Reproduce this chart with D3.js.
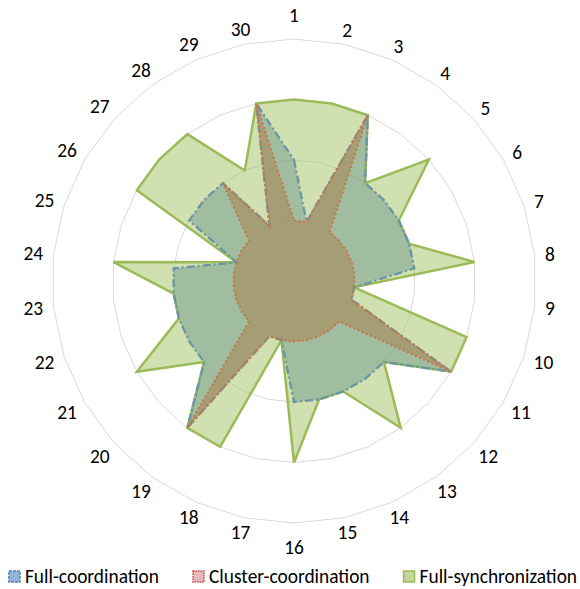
<!DOCTYPE html>
<html>
<head>
<meta charset="utf-8">
<script src="https://cdn.jsdelivr.net/npm/d3@7"></script>
<style>
  body { margin: 0; background: #fff; }
  text { font-family: Carlito, Lato, sans-serif; fill: #000; }
</style>
</head>
<body>
<svg id="chart" width="580" height="589"></svg>
<script>
// axis labels (one spoke per item, clockwise from the top)
var axisLabels = ["1","2","3","4","5","6","7","8","9","10","11","12","13","14","15",
                  "16","17","18","19","20","21","22","23","24","25","26","27","28","29","30"];

// values (grid rings at 1, 2, 3, 4)
var fullCoordination    = [2,1,3,2,2,2,2,2,1,1,3,2,2,2,2,2,1,1,3,2,2,2,2,2,1,2,2,2,1,3];
var clusterCoordination = [1,1,3,1,1,1,1,1,1,1,3,1,1,1,1,1,1,1,3,1,1,1,1,1,1,1,1,2,1,3];
var fullSynchronization = [3,3,3,2,3,2,2,3,1,3,3,2,3,2,2,3,1,3,3,2,3,2,2,3,1,3,3,3,2,3];

var seriesNames = ["Full-coordination", "Cluster-coordination", "Full-synchronization"];
var ringValues = [1, 2, 3, 4];

var svg = d3.select("#chart");
var cx = 294, cy = 281;
var n = axisLabels.length;
var fontSize = "19.4px";

// radius scale
var r = d3.scaleLinear().domain([0, 4]).range([0, 242]);

var angle = function(d, i) { return i * 2 * Math.PI / n; };

var main = svg.append("g")
  .attr("transform", "translate(" + cx + "," + cy + ")");

// polygon grid rings
var ringLine = d3.lineRadial()
  .angle(angle)
  .radius(function(d) { return r(d); })
  .curve(d3.curveLinearClosed);

main.selectAll(".ring")
  .data(ringValues)
  .enter().append("path")
    .attr("class", "ring")
    .attr("fill", "none")
    .attr("stroke", "#d9d9d9")
    .attr("stroke-width", 1)
    .attr("d", function(v) { return ringLine(axisLabels.map(function() { return v; })); });

// series styles
var styles = [
  { data: fullSynchronization, fill: "rgb(163,193,99)", op: 0.5, stroke: "#9bbb59", dash: null, width: 2.5 },
  { data: fullCoordination,    fill: "rgb(111,154,141)", op: 0.5, stroke: "#6895a5", dash: "8,3,2,3", width: 2.25 },
  { data: clusterCoordination, fill: "rgb(170,125,73)",  op: 0.5, stroke: "#c8784e", dash: "2,2.5", width: 2.25 }
];

var seriesLine = d3.lineRadial()
  .angle(angle)
  .radius(function(d) { return r(d); })
  .curve(d3.curveLinearClosed);

styles.forEach(function(s) {
  main.append("path")
    .attr("d", seriesLine(s.data))
    .attr("fill", s.fill)
    .attr("fill-opacity", s.op)
    .attr("stroke", s.stroke)
    .attr("stroke-width", s.width)
    .attr("stroke-linejoin", "miter")
    .attr("stroke-dasharray", s.dash);
});

// axis labels around the outside
var labels = main.selectAll(".alabel")
  .data(axisLabels)
  .enter().append("text")
    .attr("class", "alabel")
    .attr("text-anchor", "middle")
    .attr("dy", "0.35em")
    .style("font-size", fontSize)
    .text(function(d) { return d; });

labels.each(function(d, i) {
  var t = i * 2 * Math.PI / n;
  var hw = this.getComputedTextLength() / 2;
  var rr = 252 + hw * Math.abs(Math.sin(t)) + 3 * Math.abs(Math.cos(t)) + (i % 15 === 0 ? 11 : 0);
  d3.select(this)
    .attr("x", rr * Math.sin(t))
    .attr("y", -rr * Math.cos(t));
});

// legend
var legendItems = [
  { name: seriesNames[0], fill: "#95b3d7", stroke: "#4f81bd", dash: "3,1" },
  { name: seriesNames[1], fill: "#e6b9b8", stroke: "#c0504d", dash: "1.5,1" },
  { name: seriesNames[2], fill: "#c3d69b", stroke: "#9bbb59", dash: null }
];

var legend = svg.append("g");
var lx = 0;
legendItems.forEach(function(item) {
  var g = legend.append("g").attr("transform", "translate(" + lx + ",0)");
  g.append("rect")
    .attr("x", 1).attr("y", -5)
    .attr("width", 11).attr("height", 11)
    .attr("fill", item.fill)
    .attr("stroke", item.stroke)
    .attr("stroke-width", 1.5)
    .attr("stroke-dasharray", item.dash);
  var t = g.append("text")
    .attr("x", 17)
    .attr("dy", "0.35em")
    .style("font-size", fontSize)
    .text(item.name);
  lx += 17 + t.node().getComputedTextLength() + 33;
});
var legendW = lx - 33;
legend.attr("transform", "translate(" + (292.5 - legendW / 2) + ",576)");
</script>
</body>
</html>
